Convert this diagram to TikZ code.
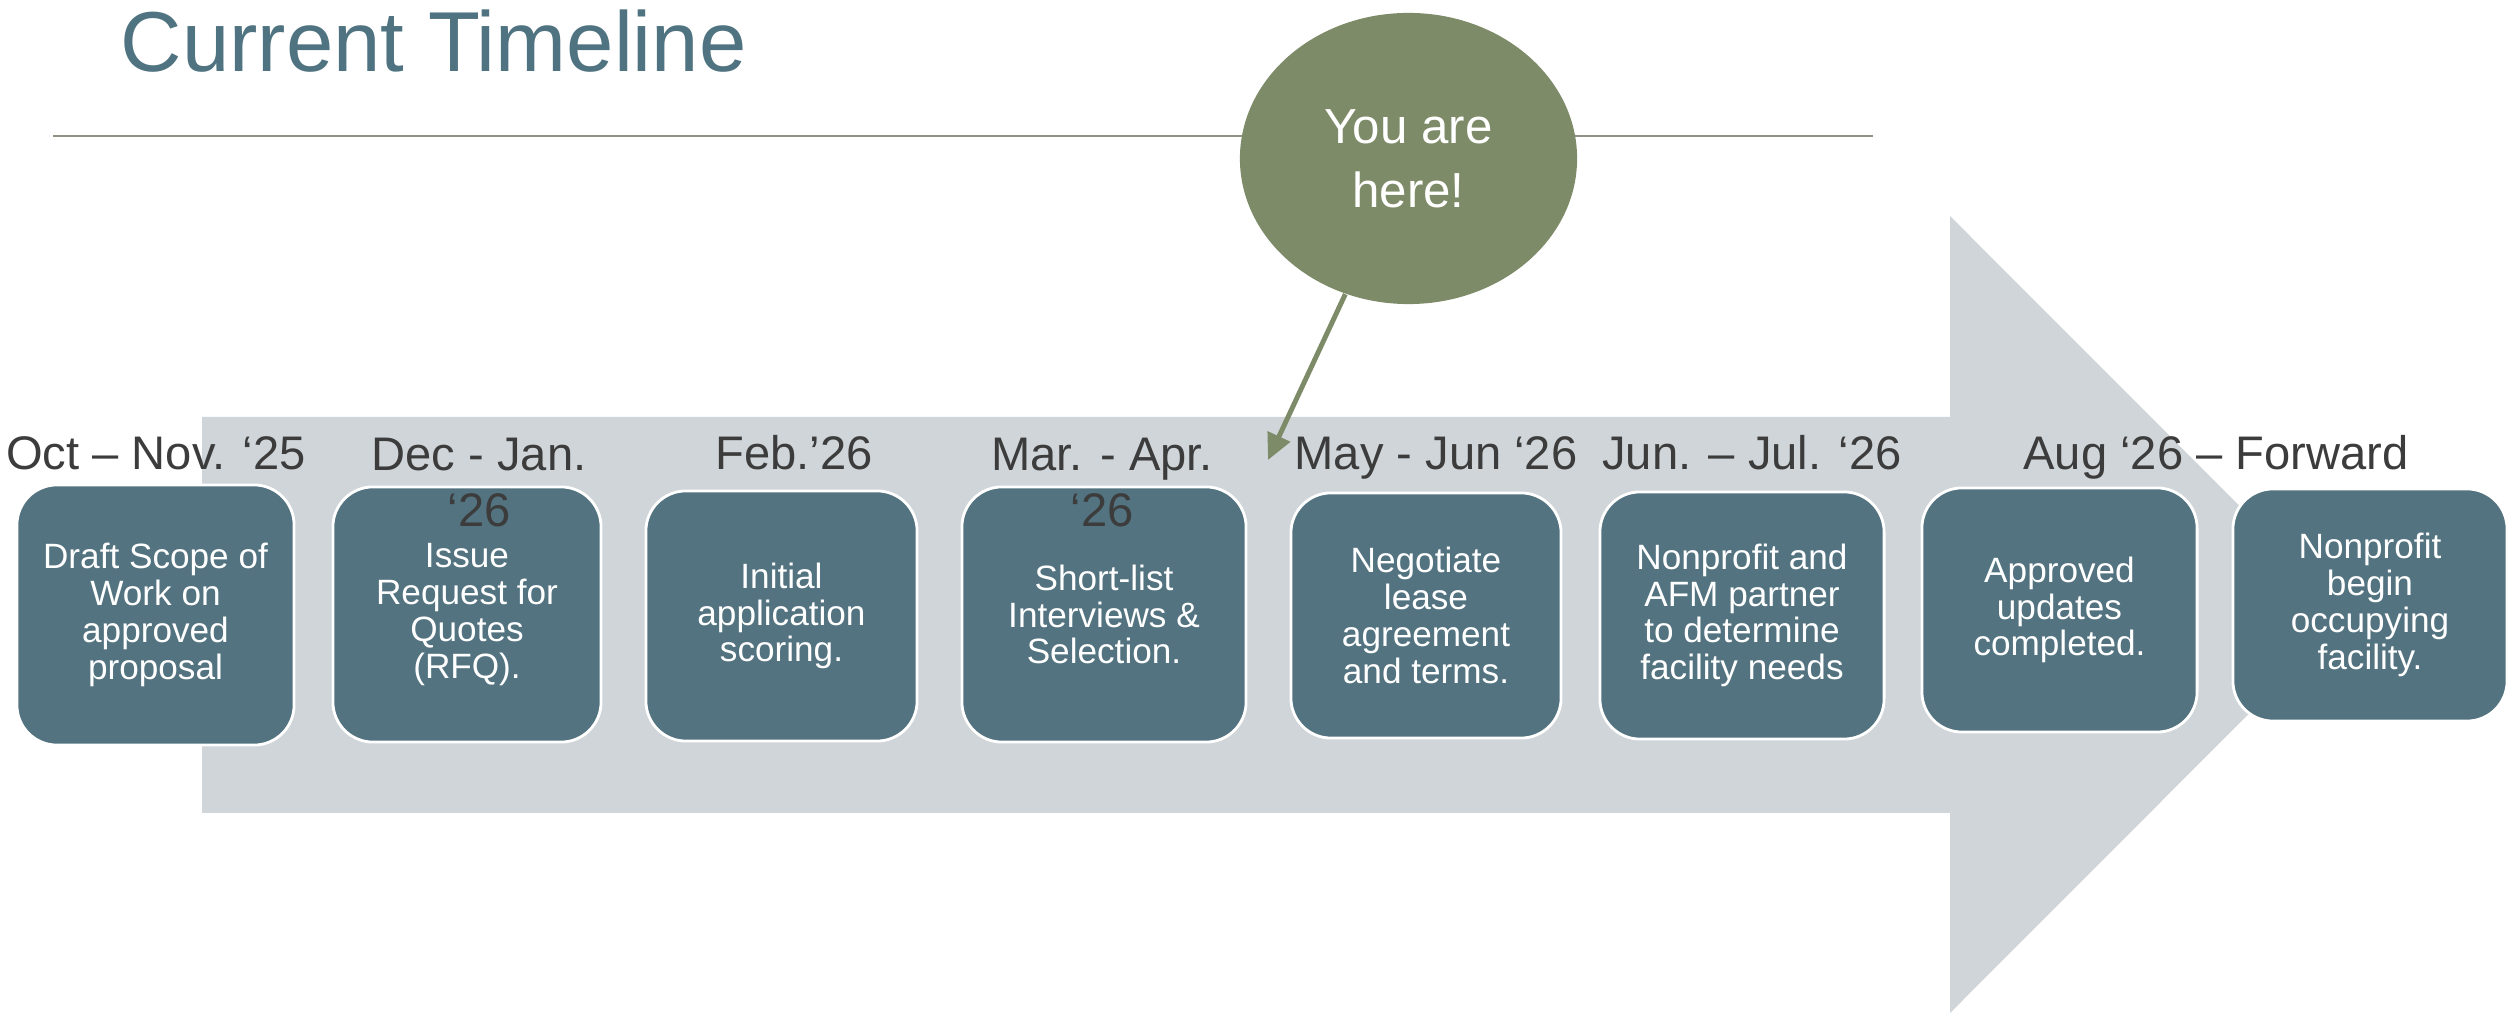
\documentclass[tikz,border=0pt]{standalone}
\usepackage{fontspec}
\setmainfont{Liberation Sans}
\usepackage{tikz}
\usetikzlibrary{arrows.meta}
\usetikzlibrary{shapes.geometric}

\definecolor{stagefill}{HTML}{52737F}
\definecolor{shaftgray}{HTML}{CFD5D8}
\definecolor{calloutgreen}{HTML}{7E8B68}
\definecolor{ruleline}{HTML}{8E9282}
\definecolor{datetext}{HTML}{3C3C3C}
\definecolor{titletext}{HTML}{4F7380}

\begin{document}
\begin{tikzpicture}[x=0.01cm,y=-0.01cm,
  stage/.style={draw=white, line width=0.8pt, fill=stagefill, rounded corners=0.4cm,
    text=white, align=center, inner sep=0pt, font=\fontsize{10}{10.45}\selectfont},
  datelbl/.style={anchor=base, text=datetext, align=center, inner sep=0pt,
    font=\fontsize{13.4}{16.2}\selectfont},
  pointer/.style={draw=calloutgreen, line width=1.4pt,
    -{Triangle[length=0.26cm, width=0.24cm]}}]
\useasboundingbox (0,0) rectangle (2514,1016);
\fill[white] (0,0) rectangle (2514,1016);
\node[anchor=base west, text=titletext, inner sep=0pt,
  font=\fontsize{24.2}{29}\selectfont] (title) at (120,72) {Current Timeline};
\draw[ruleline, line width=0.6pt] (53,136) -- (1873,136);
% the big arrow behind the stages
\fill[shaftgray] (202,417) -- (1950,417) -- (1950,216) -- (2348,614.5)
  -- (1950,1013) -- (1950,813) -- (202,813) -- cycle;

\node[stage, minimum width=2.77cm, minimum height=2.60cm] (s1) at (155.5,615)
  {Draft Scope of\\Work on\\approved\\proposal};
\node[stage, minimum width=2.68cm, minimum height=2.55cm] (s2) at (467,614.5)
  {Issue\\Request for\\Quotes\\(RFQ).};
\node[stage, minimum width=2.71cm, minimum height=2.50cm] (s3) at (781.5,616)
  {Initial\\application\\scoring.};
\node[stage, minimum width=2.84cm, minimum height=2.55cm] (s4) at (1104,614.5)
  {Short-list\\Interviews \&\\Selection.};
\node[stage, minimum width=2.70cm, minimum height=2.45cm] (s5) at (1426,615.5)
  {Negotiate\\lease\\agreement\\and terms.};
\node[stage, minimum width=2.84cm, minimum height=2.47cm] (s6) at (1742,615.5)
  {Nonprofit and\\AFM partner\\to determine\\facility needs};
\node[stage, minimum width=2.75cm, minimum height=2.44cm] (s7) at (2059.5,610)
  {Approved\\updates\\completed.};
\node[stage, minimum width=2.74cm, minimum height=2.32cm] (s8) at (2370,605)
  {Nonprofit\\begin\\occupying\\facility.};

% dates above the stages (two-line ones sit on their second line)
\node[datelbl] (d1) at (156,470) {Oct – Nov. ‘25};
\node[datelbl] (d2) at (479,527) {Dec - Jan.\\‘26};
\node[datelbl] (d3) at (794,470) {Feb.’26};
\node[datelbl] (d4) at (1102,527) {Mar. - Apr.\\‘26};
\node[datelbl] (d5) at (1436,470) {May - Jun ‘26};
\node[datelbl] (d6) at (1752,470) {Jun. – Jul. ‘26};
\node[datelbl] (d7) at (2216,470) {Aug ‘26 – Forward};

% you are here
\node[ellipse, fill=calloutgreen, minimum width=3.37cm, minimum height=2.91cm,
  inner sep=0pt, text=white, align=center,
  font=\fontsize{14}{18.2}\selectfont] (callout) at (1408.5,158.5) {You are\\here!};
\coordinate (here) at (1268,460);
\draw[pointer] (callout) -- (here);
\end{tikzpicture}
\end{document}
